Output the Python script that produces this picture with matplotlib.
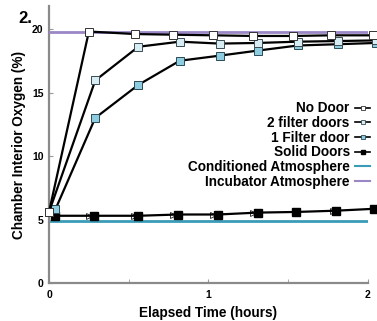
import matplotlib
matplotlib.use("Agg")
import matplotlib.pyplot as plt
from matplotlib.lines import Line2D

plt.rcParams['font.family'] = ['Liberation Sans', 'DejaVu Sans']

# Data
t_nodoor = [0.0, 0.25, 0.54, 0.78, 1.03, 1.28, 1.53, 1.77, 2.03]
o_nodoor = [5.6, 19.8, 19.6, 19.55, 19.5, 19.45, 19.45, 19.5, 19.5]

t_doors = [0.0, 0.29, 0.56, 0.82, 1.07, 1.31, 1.56, 1.81, 2.05]
o_2filter = [5.6, 15.95, 18.6, 19.0, 18.85, 18.9, 19.0, 19.05, 19.1]
t_1filter = [0.04, 0.29, 0.56, 0.82, 1.07, 1.31, 1.56, 1.81, 2.05]
o_1filter = [5.8, 13.0, 15.6, 17.5, 17.9, 18.3, 18.7, 18.8, 18.9]

t_solid = [0.04, 0.28, 0.56, 0.81, 1.06, 1.31, 1.55, 1.80, 2.04]
o_solid = [5.3, 5.3, 5.3, 5.4, 5.4, 5.55, 5.6, 5.7, 5.85]

t_arrow = [0.25, 0.53, 0.78, 1.03, 1.28, 1.54, 1.78, 2.04]
o_arrow = [5.3, 5.3, 5.4, 5.4, 5.5, 5.6, 5.7, 5.85]

conditioned = 4.9
incubator = 19.75

labels = ["No Door", "2 filter doors", "1 Filter door", "Solid Doors",
          "Conditioned Atmosphere", "Incubator Atmosphere"]

fig = plt.figure(figsize=(3.77, 3.21), dpi=100)
ax = fig.add_axes([0.130, 0.118, 0.846, 0.863])

teal = '#3b9cb8'
purple = '#9b87c6'

ax.axhline(incubator, color=purple, lw=2, zorder=7)
ax.axhline(conditioned, color=teal, lw=2, zorder=1)

ax.plot(t_arrow, o_arrow, ls='none', marker='>', mfc='none', mec='#333333',
        ms=4, mew=0.7, zorder=2, clip_on=False)
ax.plot(t_solid, o_solid, color='black', lw=1.6, marker='s', ms=5.5,
        mfc='black', mec='black', zorder=3, clip_on=False)
ax.plot(t_1filter, o_1filter, color='black', lw=1.6, marker='s', ms=5.5,
        mfc='#8ecde0', mec='#2a4a55', mew=0.7, zorder=4, clip_on=False)
ax.plot(t_doors, o_2filter, color='black', lw=1.6, marker='s', ms=5.5,
        mfc='#d8ecf3', mec='#3a4a50', mew=0.7, zorder=5, clip_on=False)
ax.plot(t_nodoor, o_nodoor, color='black', lw=1.6, marker='s', ms=5.5,
        mfc='white', mec='#333333', mew=0.7, zorder=8, clip_on=False)

hs = [
    Line2D([], [], color='black', lw=1.2, marker='s', ms=3.5, mfc='white', mec='#333333', mew=0.6),
    Line2D([], [], color='black', lw=1.2, marker='s', ms=3.5, mfc='#d8ecf3', mec='#3a4a50', mew=0.6),
    Line2D([], [], color='black', lw=1.2, marker='s', ms=3.5, mfc='#8ecde0', mec='#2a4a55', mew=0.6),
    Line2D([], [], color='black', lw=1.2, marker='s', ms=3.5, mfc='black', mec='black'),
    Line2D([], [], color=teal, lw=1.5),
    Line2D([], [], color=purple, lw=1.5)]
leg = ax.legend(hs, labels, loc='upper right', bbox_to_anchor=(1.045, 0.70),
                frameon=False, markerfirst=False, handlelength=1.1,
                handletextpad=0.4, labelspacing=0.05,
                prop={'weight': 'bold', 'size': 9.8})
for t in leg.get_texts():
    t.set_ha('right')
leg._legend_box.align = 'right'

ax.set_xlim(0, 2)
ax.set_ylim(0, 21.8)
ax.set_xticks([0, 1, 2])
ax.set_xticks([0.5, 1.5], minor=True)
ax.set_yticks([0, 5, 10, 15, 20])
ax.tick_params(axis='both', labelsize=7.5, colors='#999999', labelcolor='black',
               length=3, width=0.8)
ax.tick_params(axis='y', direction='in', pad=4)
ax.tick_params(axis='x', which='both', direction='in', pad=5)
ax.tick_params(axis='x', which='minor', length=3, colors='#999999')
for lab in ax.get_xticklabels() + ax.get_yticklabels():
    lab.set_fontweight('bold')

for s in ['top', 'right']:
    ax.spines[s].set_visible(False)
for s in ['left', 'bottom']:
    ax.spines[s].set_color('#8a8a8a')
    ax.spines[s].set_linewidth(1.6)

ax.set_xlabel('Elapsed Time (hours)', fontsize=9.8, fontweight='bold', labelpad=4)
ax.set_ylabel('Chamber Interior Oxygen (%)', fontsize=9.8, fontweight='bold', labelpad=4)

fig.text(0.048, 0.965, '2.', fontsize=12, fontweight='bold', va='top', ha='left')

fig.savefig('out.png', dpi=100)
